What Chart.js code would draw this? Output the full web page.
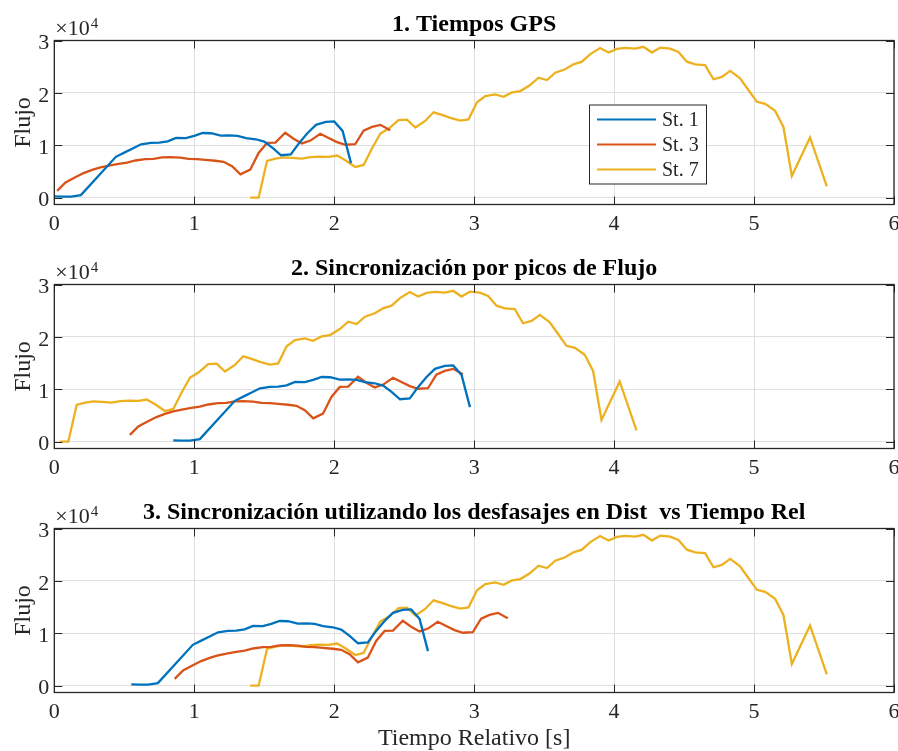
<!DOCTYPE html>
<html>
<head>
<meta charset="utf-8">
<script src="https://cdn.jsdelivr.net/npm/chart.js@4.4.1/dist/chart.umd.min.js"></script>
<style>
  body { margin: 0; background: #fff; }
  .panel { position: absolute; left: 0; width: 898px; }
  canvas { display: block; }
</style>
</head>
<body>
<div class="panel" style="top:0"><canvas id="gps" width="898" height="244"></canvas></div>
<div class="panel" style="top:244px"><canvas id="picos" width="898" height="244"></canvas></div>
<div class="panel" style="top:488px"><canvas id="dist" width="898" height="263"></canvas></div>
<script>
// tiempo relativo [s] y flujo de cada estacion (reloj GPS)
const st1Tiempo = [0, 0.06, 0.12, 0.19, 0.44, 0.50, 0.56, 0.62, 0.69, 0.75, 0.81, 0.87, 0.94, 1.00, 1.06, 1.12,
  1.19, 1.25, 1.31, 1.37, 1.44, 1.50, 1.56, 1.62, 1.69, 1.75, 1.81, 1.87, 1.94, 2.00, 2.06, 2.12]
const st1Flujo = [250, 200, 200, 500, 7800, 8600, 9400, 10200, 10450, 10500, 10750, 11400, 11350, 11800, 12350, 12300,
  11850, 11900, 11800, 11350, 11150, 10700, 9500, 8100, 8250, 10450, 12350, 13900, 14450, 14550, 12750, 6600]

const st3Tiempo = [0.02, 0.08, 0.15, 0.21, 0.27, 0.33, 0.40, 0.46, 0.52, 0.58, 0.65, 0.71, 0.77, 0.83, 0.90, 0.96,
  1.02, 1.08, 1.15, 1.21, 1.27, 1.33, 1.40, 1.46, 1.52, 1.58, 1.65, 1.71, 1.77, 1.83, 1.90, 1.96, 2.02, 2.08, 2.15,
  2.21, 2.27, 2.33, 2.40]
const st3Flujo = [1300, 2900, 3900, 4700, 5300, 5800, 6150, 6450, 6700, 7100, 7350, 7400, 7700, 7750, 7650, 7400,
  7350, 7200, 7050, 6850, 6000, 4450, 5350, 8550, 10450, 10500, 12400, 11250, 10350, 10900, 12200, 11400, 10600,
  10100, 10200, 12800, 13500, 13900, 12850]

const st7Tiempo = [1.40, 1.46, 1.52, 1.58, 1.64, 1.70, 1.77, 1.83, 1.89, 1.96, 2.02, 2.08, 2.15, 2.21, 2.27, 2.33,
  2.39, 2.46, 2.52, 2.58, 2.65, 2.71, 2.77, 2.83, 2.90, 2.96, 3.02, 3.08, 3.15, 3.21, 3.27, 3.33, 3.40, 3.46, 3.52,
  3.58, 3.65, 3.71, 3.77, 3.83, 3.90, 3.96, 4.02, 4.08, 4.15, 4.21, 4.27, 4.33, 4.40, 4.46, 4.52, 4.58, 4.65, 4.71,
  4.77, 4.83, 4.90, 4.96, 5.02, 5.08, 5.15, 5.21, 5.27, 5.40, 5.52]
const st7Flujo = [0, 0, 7000, 7450, 7700, 7600, 7450, 7750, 7850, 7800, 8050, 7150, 5850, 6250, 9400, 12250,
  13200, 14800, 14900, 13400, 14650, 16300, 15800, 15250, 14700, 14950, 18200, 19400, 19700, 19250, 20100, 20350,
  21500, 22900, 22450, 23850, 24500, 25450, 25950, 27400, 28550, 27700, 28400, 28600, 28450, 28800, 27700, 28650,
  28450, 27800, 25950, 25450, 25300, 22600, 23050, 24200, 22800, 20550, 18300, 17900, 16600, 13500, 4150, 11500, 2150]

const estaciones = ["St. 1", "St. 3", "St. 7"]
const colores = ["#0072BD", "#D95319", "#EDB120"]

// desfase de tiempo [s] de cada estacion en cada grafico
const desfaseGps = [0, 0, 0]
const desfasePicos = [0.85, 0.52, -1.36]
const desfaseDist = [0.55, 0.84, 0]

const xTicks = [0, 1, 2, 3, 4, 5, 6]
const yTicks = [0, 10000, 20000, 30000]
const yMin = -1300
const yMax = 30000

const fuente = '"Liberation Serif", "DejaVu Serif", serif'
Chart.defaults.font.family = fuente
Chart.defaults.color = '#262626'

function serie(tiempo, flujo, desfase) {
    return tiempo.map((t, i) => ({ x: t + desfase, y: flujo[i] }))
}

// caja, ticks interiores, titulo, x10^4, etiquetas y leyenda estilo matlab
const marco = {
    id: 'marco',
    afterDraw(chart, args, opts) {
        const ctx = chart.ctx
        const a = chart.chartArea
        const xs = chart.scales.x
        const ys = chart.scales.y
        ctx.save()
        ctx.strokeStyle = '#262626'
        ctx.lineWidth = 1
        ctx.beginPath()
        xTicks.forEach(v => {
            const px = Math.round(xs.getPixelForValue(v)) + 0.5
            ctx.moveTo(px, a.bottom); ctx.lineTo(px, a.bottom - 8)
            ctx.moveTo(px, a.top); ctx.lineTo(px, a.top + 8)
        })
        yTicks.forEach(v => {
            const py = Math.round(ys.getPixelForValue(v)) + 0.5
            ctx.moveTo(a.left, py); ctx.lineTo(a.left + 8, py)
            ctx.moveTo(a.right, py); ctx.lineTo(a.right - 8, py)
        })
        ctx.stroke()
        ctx.lineWidth = 1.3
        ctx.strokeRect(a.left, a.top, a.right - a.left, a.bottom - a.top)

        // titulo
        ctx.fillStyle = '#000'
        ctx.font = 'bold 24px ' + fuente
        ctx.textAlign = 'center'
        ctx.textBaseline = 'alphabetic'
        ctx.fillText(opts.titulo, (a.left + a.right) / 2, a.top - 10)

        // multiplicador del eje y
        ctx.fillStyle = '#262626'
        ctx.textAlign = 'left'
        ctx.font = '22px ' + fuente
        const base = '\u00d710'
        ctx.fillText(base, a.left + 1, a.top - 6)
        const w = ctx.measureText(base).width
        ctx.font = '15px ' + fuente
        ctx.fillText('4', a.left + 1 + w + 1, a.top - 13)

        // etiqueta eje y
        ctx.save()
        ctx.translate(30, (a.top + a.bottom) / 2)
        ctx.rotate(-Math.PI / 2)
        ctx.font = '24px ' + fuente
        ctx.textAlign = 'center'
        ctx.fillText('Flujo', 0, 0)
        ctx.restore()

        if (opts.etiquetaX) {
            ctx.font = '24px ' + fuente
            ctx.textAlign = 'center'
            ctx.fillText(opts.etiquetaX, (a.left + a.right) / 2, 257)
        }

        if (opts.leyenda) {
            const bx = 589, by = 104.5, bw = 117, bh = 79
            ctx.fillStyle = '#fff'
            ctx.fillRect(bx, by, bw, bh)
            ctx.strokeStyle = '#262626'
            ctx.lineWidth = 1
            ctx.strokeRect(bx + 0.5, by + 0.5, bw, bh)
            ctx.font = '20px ' + fuente
            ctx.textAlign = 'left'
            ctx.textBaseline = 'middle'
            chart.data.datasets.forEach((d, i) => {
                const ry = by + 15 + i * 25
                ctx.strokeStyle = d.borderColor
                ctx.lineWidth = 2.2
                ctx.beginPath()
                ctx.moveTo(bx + 8, ry); ctx.lineTo(bx + 67, ry)
                ctx.stroke()
                ctx.fillStyle = '#262626'
                ctx.fillText(d.label, bx + 73, ry + 1)
            })
        }
        ctx.restore()
    }
}

function crearGrafico(id, desfases, opciones) {
    const tiempos = [st1Tiempo, st3Tiempo, st7Tiempo]
    const flujos = [st1Flujo, st3Flujo, st7Flujo]
    const canvas = document.getElementById(id)
    const alto = canvas.height
    new Chart(canvas, {
        type: 'line',
        data: {
            datasets: estaciones.map((nombre, i) => ({
                label: nombre,
                data: serie(tiempos[i], flujos[i], desfases[i]),
                borderColor: colores[i],
                backgroundColor: colores[i],
                borderWidth: 2.3,
                pointRadius: 0,
                tension: 0
            }))
        },
        options: {
            responsive: false,
            animation: false,
            layout: { padding: { top: 40.5, left: 0, right: 4, bottom: alto - 204.5 - 30 } },
            plugins: {
                legend: { display: false },
                tooltip: { enabled: false },
                marco: opciones
            },
            scales: {
                x: {
                    type: 'linear',
                    min: 0,
                    max: 6,
                    afterBuildTicks: s => { s.ticks = xTicks.map(v => ({ value: v })) },
                    afterFit: s => { s.height = 30; s.paddingLeft = 0; s.paddingRight = 0 },
                    grid: { color: '#dfdfdf', lineWidth: 1, drawTicks: false },
                    border: { display: false },
                    ticks: { font: { size: 22 }, padding: 7, maxRotation: 0, callback: v => v }
                },
                y: {
                    min: yMin,
                    max: yMax,
                    afterBuildTicks: s => { s.ticks = yTicks.map(v => ({ value: v })) },
                    afterFit: s => { s.width = 54.3; s.paddingTop = 0; s.paddingBottom = 0 },
                    grid: { color: '#dfdfdf', lineWidth: 1, drawTicks: false },
                    border: { display: false },
                    ticks: { font: { size: 22 }, padding: 5, labelOffset: 3, callback: v => v / 10000 }
                }
            }
        },
        plugins: [marco]
    })
}

crearGrafico('gps', desfaseGps, { titulo: '1. Tiempos GPS', leyenda: true })
crearGrafico('picos', desfasePicos, { titulo: '2. Sincronización por picos de Flujo' })
crearGrafico('dist', desfaseDist, {
    titulo: '3. Sincronización utilizando los desfasajes en Dist  vs Tiempo Rel',
    etiquetaX: 'Tiempo Relativo [s]'
})
</script>
</body>
</html>
